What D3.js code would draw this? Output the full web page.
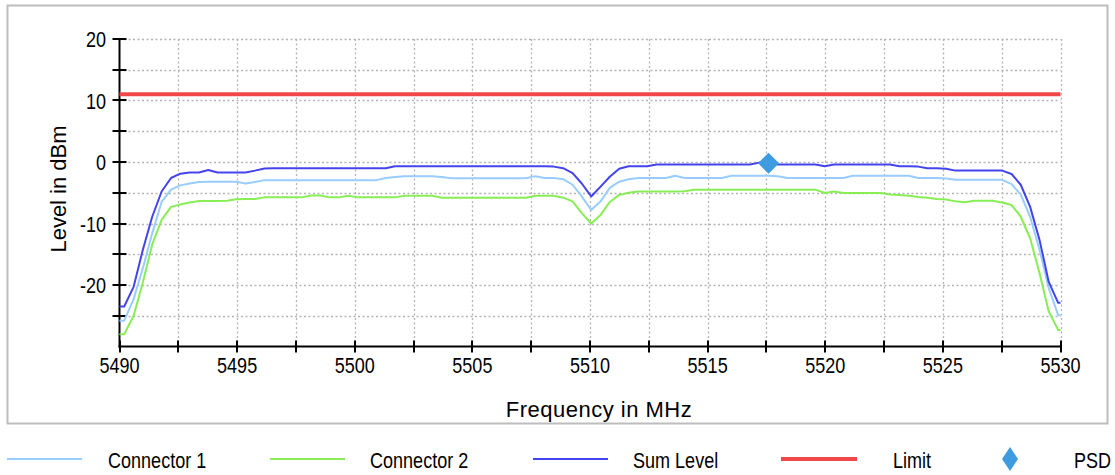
<!DOCTYPE html>
<html><head><meta charset="utf-8">
<script src="https://cdn.jsdelivr.net/npm/d3@7"></script>
<style>
html,body{margin:0;padding:0;background:#fff;}
svg{display:block;}
text{font-family:"Liberation Sans",Arial,sans-serif;}
</style></head>
<body>
<svg id="chart" width="1115" height="475"></svg>
<script>
// ---- data ----
const freqs = [5490,
 5490.20,5490.60,5490.99,5491.39,5491.79,5492.19,5492.58,5492.98,5493.38,5493.77,
 5494.17,5494.57,5494.96,5495.36,5495.76,5496.16,5496.55,5496.95,5497.35,5497.74,
 5498.14,5498.54,5498.93,5499.33,5499.73,5500.13,5500.52,5500.92,5501.32,5501.71,
 5502.11,5502.51,5502.90,5503.30,5503.70,5504.10,5504.49,5504.89,5505.29,5505.68,
 5506.08,5506.48,5506.87,5507.27,5507.67,5508.07,5508.46,5508.86,5509.26,5509.65,
 5510.05,5510.45,5510.84,5511.24,5511.64,5512.04,5512.43,5512.83,5513.23,5513.62,
 5514.02,5514.42,5514.81,5515.21,5515.61,5516.01,5516.40,5516.80,5517.20,5517.59,
 5517.99,5518.39,5518.78,5519.18,5519.58,5519.98,5520.37,5520.77,5521.17,5521.56,
 5521.96,5522.36,5522.75,5523.15,5523.55,5523.95,5524.34,5524.74,5525.14,5525.53,
 5525.93,5526.33,5526.72,5527.12,5527.52,5527.92,5528.31,5528.71,5529.11,5529.50,
 5529.90,
 5530];

const connector1 = [-25.8,
 -25.8,-22.3,-17.3,-11.6,-6.5,-4.5,-3.8,-3.5,-3.25,-3.2,
 -3.2,-3.2,-3.2,-3.5,-3.25,-2.95,-2.95,-2.95,-2.95,-2.95,
 -2.95,-2.95,-2.95,-2.95,-2.95,-2.95,-2.95,-2.95,-2.6,-2.45,
 -2.3,-2.3,-2.3,-2.3,-2.45,-2.65,-2.65,-2.65,-2.65,-2.65,
 -2.65,-2.65,-2.65,-2.65,-2.3,-2.6,-2.6,-2.8,-3.7,-5.6,
 -7.8,-6.4,-4.2,-3.2,-2.8,-2.6,-2.6,-2.6,-2.6,-2.25,
 -2.6,-2.6,-2.6,-2.6,-2.6,-2.25,-2.25,-2.25,-2.25,-2.25,
 -2.3,-2.6,-2.6,-2.6,-2.6,-2.6,-2.6,-2.6,-2.25,-2.25,
 -2.25,-2.25,-2.25,-2.25,-2.25,-2.6,-2.6,-2.6,-2.7,-2.9,
 -2.9,-2.9,-2.9,-2.9,-2.9,-3.6,-5.3,-8.9,-14.3,-20.5,
 -24.9,
 -24.9];

const connector2 = [-28.0,
 -28.0,-25.0,-19.6,-13.4,-9.4,-7.3,-6.9,-6.6,-6.35,-6.35,
 -6.35,-6.3,-6.05,-6.0,-6.0,-5.75,-5.75,-5.75,-5.75,-5.75,
 -5.45,-5.45,-5.75,-5.75,-5.5,-5.75,-5.75,-5.75,-5.75,-5.75,
 -5.5,-5.5,-5.5,-5.5,-5.8,-5.8,-5.8,-5.8,-5.8,-5.8,
 -5.8,-5.8,-5.8,-5.8,-5.5,-5.5,-5.5,-5.8,-6.4,-8.3,
 -10.0,-8.6,-6.5,-5.35,-5.0,-4.8,-4.8,-4.8,-4.8,-4.8,
 -4.75,-4.5,-4.5,-4.5,-4.5,-4.5,-4.5,-4.5,-4.5,-4.5,
 -4.5,-4.5,-4.5,-4.5,-4.5,-5.05,-4.8,-5.05,-5.05,-5.05,
 -5.05,-5.05,-5.3,-5.35,-5.5,-5.7,-5.8,-6.0,-6.1,-6.4,
 -6.55,-6.3,-6.3,-6.3,-6.6,-7.0,-8.9,-12.4,-18.1,-24.3,
 -27.3,
 -27.3];

const sumLevel = [-23.5,
 -23.5,-20.3,-14.3,-8.9,-4.8,-2.6,-1.9,-1.7,-1.7,-1.3,
 -1.7,-1.7,-1.7,-1.7,-1.4,-1.05,-1.0,-1.0,-1.0,-1.0,
 -1.0,-1.0,-1.0,-1.0,-1.0,-1.0,-1.0,-1.0,-1.0,-0.7,
 -0.7,-0.7,-0.7,-0.7,-0.7,-0.7,-0.7,-0.7,-0.7,-0.7,
 -0.7,-0.7,-0.7,-0.7,-0.7,-0.7,-0.75,-1.0,-1.8,-3.5,
 -5.6,-4.0,-2.4,-1.1,-0.7,-0.7,-0.7,-0.4,-0.4,-0.4,
 -0.4,-0.4,-0.4,-0.4,-0.4,-0.4,-0.4,-0.4,-0.1,-0.1,
 -0.4,-0.4,-0.4,-0.4,-0.4,-0.7,-0.4,-0.4,-0.4,-0.4,
 -0.4,-0.4,-0.4,-0.7,-0.7,-0.75,-1.0,-1.0,-1.1,-1.4,
 -1.4,-1.4,-1.4,-1.4,-1.4,-1.95,-3.7,-7.3,-12.7,-19.5,
 -22.9,
 -22.9];

const limitFreqs = [5490, 5530];
const limitLevels = [11, 11];
const psdFreqs = [5517.59];
const psdLevels = [-0.2];

const xTickValues = [5490,5492.5,5495,5497.5,5500,5502.5,5505,5507.5,5510,5512.5,5515,5517.5,5520,5522.5,5525,5527.5,5530];
const xTickLabels = ["5490","5495","5500","5505","5510","5515","5520","5525","5530"];
const yTickValues = [20,15,10,5,0,-5,-10,-15,-20,-25];
const yTickLabels = ["20","10","0","-10","-20"];

const legendNames = ["Connector 1","Connector 2","Sum Level","Limit","PSD"];
const colors = {c1:"#99ccff", c2:"#88ee55", sum:"#4444ee", limit:"#f04848", psd:"#3e9be0"};

// ---- drawing ----
const svg = d3.select("#chart");
const x = d3.scaleLinear().domain([5490,5530]).range([119.5,1060.5]);
const y = d3.scaleLinear().domain([-30,20]).range([346.5,39]);
const FS = 22, SX = 0.82;

// condensed text helper
function ctext(g, tx, ty, str, anchor){
  return g.append("text").attr("font-size",FS).attr("text-anchor",anchor||"start")
    .attr("transform",`translate(${tx},${ty}) scale(${SX},1)`).text(str);
}

// frame
svg.append("rect").attr("x",7.5).attr("y",5.5).attr("width",1100).attr("height",418)
  .attr("fill","#fff").attr("stroke","#bdbdbd").attr("stroke-width",2);

// grid
const grid = svg.append("g").attr("stroke","#b4b4b4").attr("stroke-width",1.3).attr("stroke-dasharray","2,2.5");
grid.selectAll(".gh").data(yTickValues).join("line")
  .attr("x1",x(5490)).attr("x2",x(5530)).attr("y1",d=>Math.round(y(d))+0.5).attr("y2",d=>Math.round(y(d))+0.5);
grid.selectAll(".gv").data(xTickValues.slice(1)).join("line")
  .attr("y1",y(20)).attr("y2",y(-30)).attr("x1",d=>Math.round(x(d))+0.5).attr("x2",d=>Math.round(x(d))+0.5);

// axes
const ax = svg.append("g").attr("stroke","#000").attr("stroke-width",2);
ax.append("line").attr("x1",x(5490)).attr("x2",x(5490)).attr("y1",y(20)).attr("y2",y(-30)+1);
ax.append("line").attr("x1",x(5490)-1).attr("x2",x(5530)+1).attr("y1",y(-30)).attr("y2",y(-30));
ax.selectAll(".ty").data(yTickValues).join("line")
  .attr("x1",x(5490)-7).attr("x2",x(5490)+7).attr("y1",d=>Math.round(y(d))).attr("y2",d=>Math.round(y(d)));
ax.selectAll(".tx").data(xTickValues).join("line")
  .attr("y1",y(-30)-6).attr("y2",y(-30)+6).attr("x1",d=>Math.round(x(d))).attr("x2",d=>Math.round(x(d)));

// tick labels
const tl = svg.append("g").attr("fill","#000");
yTickLabels.forEach(d=>ctext(tl, 106, y(+d)+8, d, "end"));
xTickLabels.forEach(d=>ctext(tl, x(+d), 373, d, "middle"));

// axis titles
svg.append("text").attr("font-size",FS).attr("text-anchor","middle")
  .attr("transform","translate(66,189) rotate(-90)").text("Level in dBm");
svg.append("text").attr("font-size",FS).attr("text-anchor","middle").attr("letter-spacing",0.5)
  .attr("x",599).attr("y",417).text("Frequency in MHz");

// series
const line = d3.line().x(d=>x(d[0])).y(d=>y(d[1]));
const plot = svg.append("g").attr("fill","none").attr("stroke-linejoin","round");
plot.append("path").datum(d3.zip(limitFreqs,limitLevels)).attr("d",line).attr("stroke",colors.limit).attr("stroke-width",4);
plot.append("path").datum(d3.zip(freqs,connector2)).attr("d",line).attr("stroke",colors.c2).attr("stroke-width",2);
plot.append("path").datum(d3.zip(freqs,connector1)).attr("d",line).attr("stroke",colors.c1).attr("stroke-width",2);
plot.append("path").datum(d3.zip(freqs,sumLevel)).attr("d",line).attr("stroke",colors.sum).attr("stroke-width",2);

// PSD marker
svg.append("g").selectAll("path").data(d3.zip(psdFreqs,psdLevels)).join("path")
  .attr("d","M0,-10.5L10.5,0L0,10.5L-10.5,0Z").attr("fill",colors.psd)
  .attr("transform",d=>`translate(${x(d[0])},${y(d[1])})`);

// legend
const lg = svg.append("g");
const legY = 459;
const legItems = [
  {name:legendNames[0], x0:7, x1:82, tx:108, c:colors.c1, w:2},
  {name:legendNames[1], x0:270, x1:345, tx:370, c:colors.c2, w:2},
  {name:legendNames[2], x0:533, x1:608, tx:633, c:colors.sum, w:2},
  {name:legendNames[3], x0:781, x1:857, tx:893, c:colors.limit, w:4}
];
legItems.forEach(it=>{
  lg.append("line").attr("x1",it.x0).attr("x2",it.x1).attr("y1",legY).attr("y2",legY)
    .attr("stroke",it.c).attr("stroke-width",it.w);
  ctext(lg, it.tx, legY+8.5, it.name);
});
lg.append("path").attr("d","M0,-12L8,0L0,12L-8,0Z").attr("fill",colors.psd).attr("transform",`translate(1010,${legY})`);
ctext(lg, 1074, legY+8.5, legendNames[4]);
</script>
</body></html>
